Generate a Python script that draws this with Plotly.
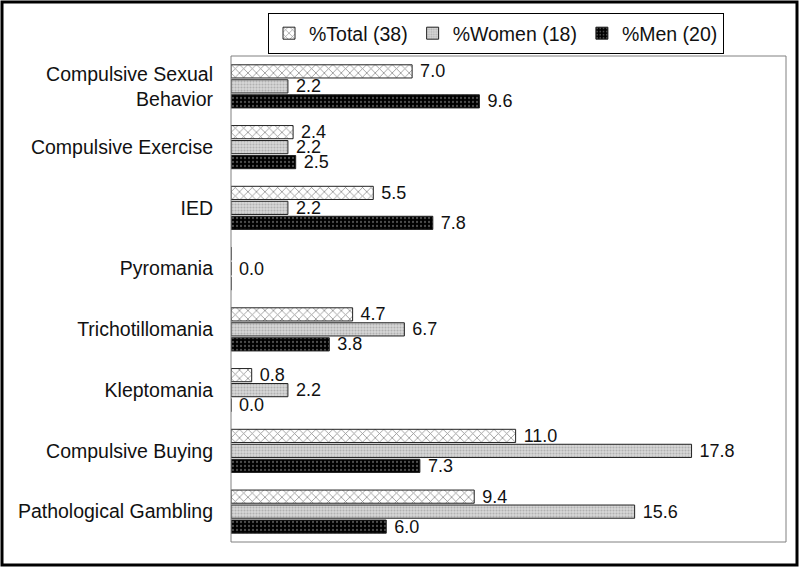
import plotly.graph_objects as go

categories = [
    "Compulsive Sexual<br>Behavior",
    "Compulsive Exercise",
    "IED",
    "Pyromania",
    "Trichotillomania",
    "Kleptomania",
    "Compulsive Buying",
    "Pathological Gambling",
]
total_pct = [7.0, 2.4, 5.5, 0.0, 4.7, 0.8, 11.0, 9.4]
women_pct = [2.2, 2.2, 2.2, 0.0, 6.7, 2.2, 17.8, 15.6]
men_pct = [9.6, 2.5, 7.8, 0.0, 3.8, 0.0, 7.3, 6.0]
series_names = ["%Total (38)", "%Women (18)", "%Men (20)"]

# only one "0.0" label is shown for Pyromania in the source chart
hidden_labels = {("%Total (38)", "Pyromania"), ("%Men (20)", "Pyromania")}

FONT = "Liberation Sans, Arial, sans-serif"

styles = {
    "%Total (38)": dict(color="white", pattern=dict(shape="x", fgcolor="#202020", bgcolor="white", size=6, solidity=0.25)),
    "%Women (18)": dict(color="#c8c8c8", pattern=dict(shape=".", fgcolor="#8a8a8a", bgcolor="#d8d8d8", size=3, solidity=0.4)),
    "%Men (20)": dict(color="black", pattern=dict(shape=".", fgcolor="#9a9a9a", bgcolor="black", size=4, solidity=0.25)),
}


def labels_for(name, values):
    out = []
    for cat, v in zip(categories, values):
        out.append("" if (name, cat) in hidden_labels else "\u00a0" + f"{v:.1f}")
    return out


fig = go.Figure()
for name, values in zip(series_names, [total_pct, women_pct, men_pct]):
    st = styles[name]
    fig.add_trace(go.Bar(
        y=categories,
        x=values,
        name=name,
        orientation="h",
        marker=dict(color=st["color"], pattern=st["pattern"],
                    line=dict(color="#222222", width=1)),
        text=labels_for(name, values),
        textposition="outside",
        constraintext="none",
        cliponaxis=False,
        textfont=dict(family=FONT, size=18, color="#111111"),
    ))

# plot box in pixels: x 231..786, y 56..542
PL, PR, PT, PB = 231, 786, 56, 542
W, H = 800, 567
pw, ph = PR - PL, PB - PT


def px_x(x):
    return (x - PL) / pw


def px_y(y):
    return (PB - y) / ph


fig.update_layout(
    width=W,
    height=H,
    paper_bgcolor="white",
    plot_bgcolor="white",
    font=dict(family=FONT, size=19.5, color="#111111"),
    barmode="group",
    bargap=0.26,
    bargroupgap=0.12,
    margin=dict(l=PL, r=W - PR, t=PT, b=H - PB, pad=0),
    showlegend=True,
    legend=dict(
        orientation="h",
        x=px_x(496), xanchor="center",
        y=px_y(13), yanchor="top",
        bordercolor="black", borderwidth=1,
        font=dict(family=FONT, size=19.5, color="#111111"),
        itemwidth=30,
        traceorder="normal",
    ),
    xaxis=dict(range=[0, 21.45], visible=False, showgrid=False, zeroline=False),
    yaxis=dict(
        autorange="reversed",
        showgrid=False,
        zeroline=False,
        showline=False,
        ticks="",
        ticklabelstandoff=17,
        tickfont=dict(family=FONT, size=19.5, color="#111111"),
    ),
    shapes=[
        dict(type="rect", xref="paper", yref="paper", x0=0, x1=1, y0=0, y1=1,
             line=dict(color="#808080", width=1), layer="above"),
        dict(type="rect", xref="paper", yref="paper",
             x0=px_x(2), x1=px_x(797), y0=px_y(565), y1=px_y(2),
             line=dict(color="black", width=3), layer="above"),
    ],
)

# drop the default page margin so the figure sits at the window's corner
fig.write_html(
    "out.html",
    config={"displayModeBar": False},
    post_script="document.body.style.margin='0';",
)
